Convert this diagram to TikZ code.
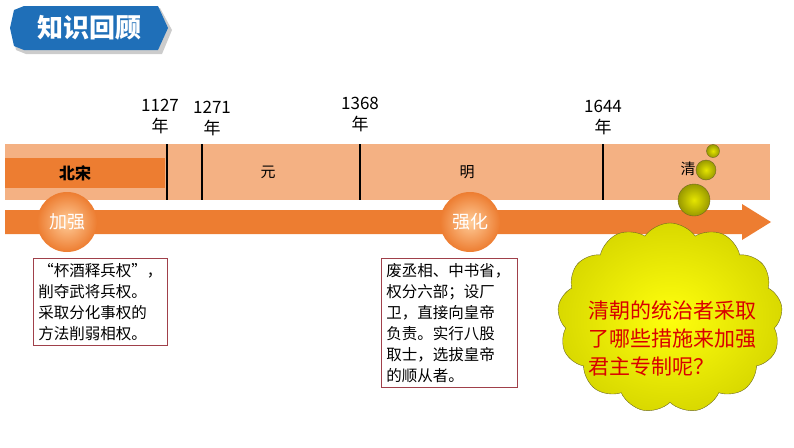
\documentclass[tikz,border=0pt]{standalone}
\usepackage{fontspec}
\setmainfont{Noto Sans CJK SC}
\usetikzlibrary{shapes.symbols,shadows}
\definecolor{band}{HTML}{F4B183}
\definecolor{org}{HTML}{ED7D31}
\definecolor{ttl}{HTML}{1F6FB8}
\definecolor{boxred}{HTML}{A0404A}
\tikzset{
 yr/.style={font=\fontsize{17}{21}\selectfont,align=center},
 per/.style={font=\fontsize{15}{17}\selectfont},
 tick/.style={line width=1.6pt,black},
 circ/.style={circle,minimum size=60pt,inner sep=0pt,inner color=orange!40!white,outer color=org,text=white,font=\fontsize{18}{20}\selectfont},
 note/.style={draw=boxred,line width=0.6pt,align=left,anchor=north west,inner sep=5pt,font=\fontsize{15.5}{21}\selectfont},
 bub/.style={circle,draw=olive!70!black,inner color=yellow!80!olive,outer color=olive!80!yellow,inner sep=0pt}
}
\begin{document}
\begin{tikzpicture}[x=1pt,y=-1pt]
\useasboundingbox (0,0) rectangle (794,447);
% title
\fill[gray!40] (16,12)--(26,8)--(160,8)--(172,30)--(162,54)--(26,54)--(16,50)--(12,30)--cycle;
\fill[ttl] (14,10)--(24,6)--(158,6)--(168,28)--(158,50)--(24,50)--(14,46)--(10,28)--cycle;
\node[text=white,font=\bfseries\fontsize{26}{28}\selectfont] (title) at (89,28) {知识回顾};
% band
\fill[band] (5,144) rectangle (770,200);
\fill[org] (5,158) rectangle (165,188);
\node[font=\bfseries\fontsize{16}{18}\selectfont] (bs) at (75,173) {北宋};
\foreach \x/\n in {167/a,202/b,360/c,603/d}{\draw[tick] (\x,144) -- (\x,200);}
\node[yr] (y1) at (160,117) {1127\\年};
\node[yr] (y2) at (212,119) {1271\\年};
\node[yr] (y3) at (360,115) {1368\\年};
\node[yr] (y4) at (603,118) {1644\\年};
\node[per] (yuan) at (268,172) {元};
\node[per] (ming) at (467,172) {明};
\node[per] (qing) at (688,169) {清};
% arrow
\fill[org] (5,210) -- (742,210) -- (742,204) -- (771,222) -- (742,240) -- (742,234) -- (5,234) -- cycle;
\node[circ] (jq) at (67,222) {加强};
\node[circ] (qh) at (470,222) {强化};
% notes
\node[note,text width=124pt] (n1) at (33,258) {“杯酒释兵权”，\\削夺武将兵权。\\采取分化事权的\\方法削弱相权。};
\node[note,text width=126pt] (n2) at (381,258) {废丞相、中书省，\\权分六部；设厂\\卫，直接向皇帝\\负责。实行八股\\取士，选拔皇帝\\的顺从者。};
% cloud
\node[cloud,cloud puffs=13,cloud puff arc=110,aspect=1.2,draw=olive!70!black,inner color=yellow!95!white,outer color=yellow!70!olive,minimum width=225pt,minimum height=190pt] (cl) at (670,318) {};
\node[text=red!85!black,align=left,font=\fontsize{21}{28}\selectfont] (q) at (672,338) {清朝的统治者采取\\了哪些措施来加强\\君主专制呢？};
\node[bub,minimum size=32pt] (b3) at (694,200) {};
\node[bub,minimum size=20pt] (b2) at (706,170) {};
\node[bub,minimum size=13pt] (b1) at (713,151) {};
\end{tikzpicture}
\end{document}
